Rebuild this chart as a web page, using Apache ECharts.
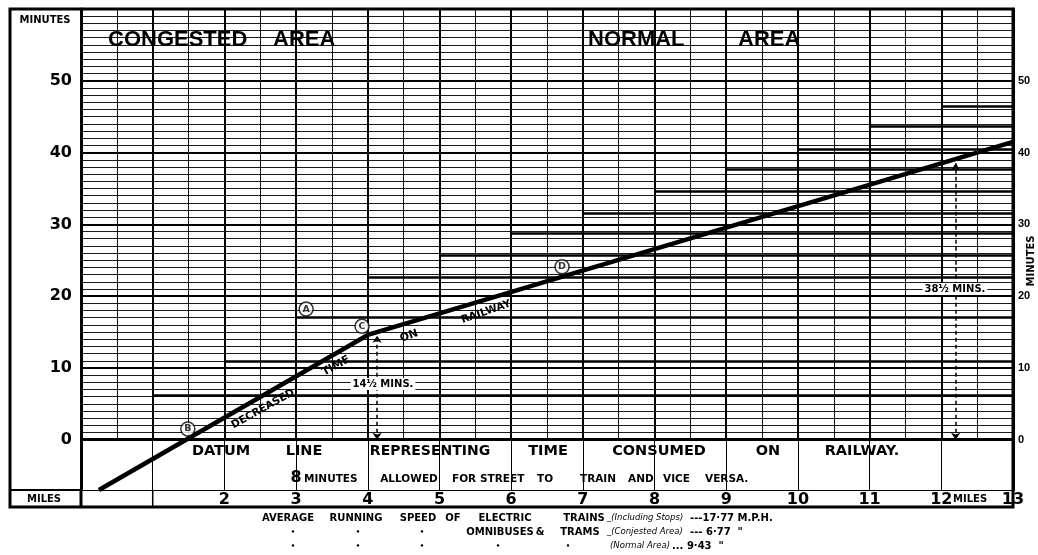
<!DOCTYPE html>
<html><head><meta charset="utf-8">
<script src="https://cdn.jsdelivr.net/npm/echarts@6/dist/echarts.min.js"></script>
<style>html,body{margin:0;padding:0;background:#fff}#c{width:1038px;height:555px}</style>
</head><body><div id="c"></div>
<script>
// ---- data ----
const mileTicks = [2,3,4,5,6,7,8,9,10,11,12,13];
const minuteTicks = [0,10,20,30,40,50];
const railwayMiles = [0.25, 4.0, 13];
const railwayMinutes = [-7, 14.6, 41.5];
const omnibusFromMiles = [1,2,3,4,5,6,7,8,9,10,11,12];
const omnibusMinutes = [6.2,11,17,22.7,25.7,28.7,31.6,34.6,37.7,40.5,43.6,46.5];
const pointLabels = ['A','B','C','D'];
const pointMiles = [3.14,1.49,3.92,6.71];
const pointMinutes = [18.2,1.5,15.8,24.1];
const measureMiles = [4.13,12.2];
const measureMinutes = [14.5,38.5];
const measureLabels = ['14½ MINS.','38½ MINS.'];

const FONT = 'DejaVu Sans';
function T(x,y,text,o){
  o = o||{};
  return {type:'text', x:x, y:y, rotation:o.rot||0, z:100, silent:true,
    style:{text:text, fill:'#000', fontSize:o.size||11, fontWeight:o.weight||'bold',
      fontStyle:o.style||'normal', fontFamily:o.family||FONT,
      align:o.align||'center', textAlign:o.align||'center',
      verticalAlign:'middle', textVerticalAlign:'middle',
      backgroundColor:o.bg, padding:o.bg?[1,2]:0}};
}
const deg = d => d*Math.PI/180;

const chart = echarts.init(document.getElementById('c'));

// reference lines built from the arrays
const refLines = [];
minuteTicks.forEach(v => refLines.push({yAxis:v, lineStyle:{width: v===0?3:2, color:'#000', type:'solid'}}));
omnibusFromMiles.forEach((m,i) => refLines.push([
  {coord:[m, omnibusMinutes[i]], lineStyle:{width:2.5, color:'#000', type:'solid'}},
  {coord:[13, omnibusMinutes[i]]}]));
for (let m=0; m<=13; m++) refLines.push([
  {coord:[m,-7], lineStyle:{width:(m===0||m===13)?3:1, color:'#000', type:'solid'}},
  {coord:[m,0]}]);

const graphics = [
  {type:'rect', z:100, silent:true, shape:{x:10,y:9,width:1003,height:498}, style:{fill:'none', stroke:'#000', lineWidth:3}},
  {type:'line', z:100, silent:true, shape:{x1:10,y1:490,x2:81,y2:490}, style:{stroke:'#000', lineWidth:2}},
  {type:'line', z:100, silent:true, shape:{x1:81,y1:490,x2:81,y2:507}, style:{stroke:'#000', lineWidth:3}},
  {type:'line', z:100, silent:true, shape:{x1:152.7,y1:490,x2:152.7,y2:507}, style:{stroke:'#000', lineWidth:1.5}},
  T(45,20,'MINUTES',{size:10}),
  T(44,499,'MILES',{size:10}),
  T(953,499,'MILES',{size:10, align:'left'}),
  T(1031,261,'MINUTES',{size:10, rot:deg(90)}),
  T(108,40,'CONGESTED',{size:22, align:'left', family:'Liberation Sans'}),
  T(273,40,'AREA',{size:22, align:'left', family:'Liberation Sans'}),
  T(588,40,'NORMAL',{size:22, align:'left', family:'Liberation Sans'}),
  T(738,40,'AREA',{size:22, align:'left', family:'Liberation Sans'}),
  // datum row
  T(221,451,'DATUM',{size:14.5}),
  T(304,451,'LINE',{size:14.5}),
  T(430,451,'REPRESENTING',{size:14}),
  T(548,451,'TIME',{size:14.5}),
  T(659,451,'CONSUMED',{size:14.5}),
  T(768,451,'ON',{size:14.5}),
  T(862,451,'RAILWAY.',{size:14.5}),
  T(296,478,'8',{size:16, align:'center'}),
  T(304,479,'MINUTES',{size:10.5, align:'left'}),
  T(409,479,'ALLOWED',{size:10.5}),
  T(452,479,'FOR',{size:10.5, align:'left'}),
  T(480,479,'STREET',{size:10.5, align:'left'}),
  T(537,479,'TO',{size:10.5, align:'left'}),
  T(580,479,'TRAIN',{size:10.5, align:'left'}),
  T(628,479,'AND',{size:10.5, align:'left'}),
  T(663,479,'VICE',{size:10.5, align:'left'}),
  T(705,479,'VERSA.',{size:10.5, align:'left'}),
  // along the railway line
  T(263,409,'DECREASED',{size:10.5, rot:deg(29)}),
  T(336,366,'TIME',{size:11, rot:deg(29)}),
  T(409,336,'ON',{size:11, rot:deg(19)}),
  T(486,312,'RAILWAY',{size:10.5, rot:deg(19)}),
  T(383,384,measureLabels[0],{size:10, bg:'#fff'}),
  T(955,289,measureLabels[1],{size:10, bg:'#fff'}),
  // caption
  T(288,518,'AVERAGE',{size:10}),
  T(356,518,'RUNNING',{size:10}),
  T(418,518,'SPEED',{size:10}),
  T(453,518,'OF',{size:10}),
  T(505,518,'ELECTRIC',{size:10}),
  T(584,518,'TRAINS',{size:10}),
  T(607,518,'_(Including Stops)',{size:8.5,align:'left',weight:'normal',style:'italic'}),
  T(690,518,'---17·77 M.P.H.',{size:10,align:'left'}),
  T(500,532,'OMNIBUSES',{size:10}),
  T(540,532,'&',{size:10}),
  T(580,532,'TRAMS',{size:10}),
  T(607,532,'_(Conjested Area)',{size:8.5,align:'left',weight:'normal',style:'italic'}),
  T(690,532,'--- 6·77  "',{size:10,align:'left'}),
  T(610,546,'(Normal Area)',{size:8.5,align:'left',weight:'normal',style:'italic'}),
  T(672,546,'... 9·43  "',{size:10,align:'left'})
];
[293,358,422].forEach(x => graphics.push(T(x,532,'•',{size:7})));
[293,358,422,498,568].forEach(x => graphics.push(T(x,546,'•',{size:7})));

chart.setOption({
  animation:false,
  backgroundColor:'#fff',
  grid:{left:81, right:25, top:9, bottom:65, containLabel:false},
  xAxis:{type:'value', min:0, max:13, interval:1,
    axisLine:{show:true, onZero:false, lineStyle:{color:'#000', width:2}},
    axisTick:{show:false},
    axisLabel:{margin:2, color:'#000', fontSize:16, fontWeight:'bold', fontFamily:FONT,
      formatter:v => mileTicks.includes(v) ? String(v) : ''},
    splitLine:{show:true, lineStyle:{color:'#000', width:2}},
    minorTick:{show:false, splitNumber:2},
    minorSplitLine:{show:true, lineStyle:{color:'#111', width:1}}},
  yAxis:[
    {type:'value', min:-7, max:60, interval:1, position:'left',
      axisLine:{show:true, onZero:false, lineStyle:{color:'#000', width:3}},
      axisTick:{show:false},
      axisLabel:{margin:9, color:'#000', fontSize:16, fontWeight:'bold', fontFamily:FONT,
        formatter:v => minuteTicks.includes(v) ? String(v) : ''},
      splitLine:{show:true, lineStyle:{color:'#1a1a1a', width:1}}},
    {type:'value', min:-7, max:60, interval:1, position:'right',
      axisLine:{show:true, onZero:false, lineStyle:{color:'#000', width:3}},
      axisTick:{show:false},
      axisLabel:{margin:5, color:'#000', fontSize:11, fontWeight:'bold', fontFamily:'Liberation Sans',
        formatter:v => minuteTicks.includes(v) ? String(v) : ''},
      splitLine:{show:false}}
  ],
  series:[
    {type:'line', data:[[0,-7]], showSymbol:false, z:1, silent:true,
      markArea:{silent:true, itemStyle:{color:'#fff'}, data:[[{coord:[0,-7]},{coord:[13,0]}]]}},
    {type:'line', data:[[0,-7]], showSymbol:false, z:3, silent:true,
      markLine:{silent:true, symbol:['none','none'], label:{show:false}, animation:false,
        lineStyle:{color:'#000', type:'solid'}, data:refLines}},
    {type:'line', data:[[0,-7]], showSymbol:false, z:4, silent:true,
      markLine:{silent:true, symbol:['arrow','arrow'], symbolSize:7, label:{show:false}, animation:false,
        lineStyle:{color:'#000', type:[4,3], width:1.5},
        data:measureMiles.map((m,i)=>[{coord:[m,0]},{coord:[m,measureMinutes[i]]}])}},
    {type:'line', data:railwayMiles.map((m,i)=>[m, railwayMinutes[i]]), showSymbol:false, z:5,
      lineStyle:{color:'#000', width:4.5}, clip:false},
    {type:'scatter', data:pointMiles.map((m,i)=>[m, pointMinutes[i], pointLabels[i]]), z:6,
      symbol:'circle', symbolSize:14, itemStyle:{color:'#fff', borderColor:'#000', borderWidth:1.5},
      label:{show:true, position:'inside', formatter:p=>p.data[2], color:'#000', fontSize:9.5, fontWeight:'bold', fontFamily:FONT}}
  ],
  graphic:graphics
});
</script></body></html>
